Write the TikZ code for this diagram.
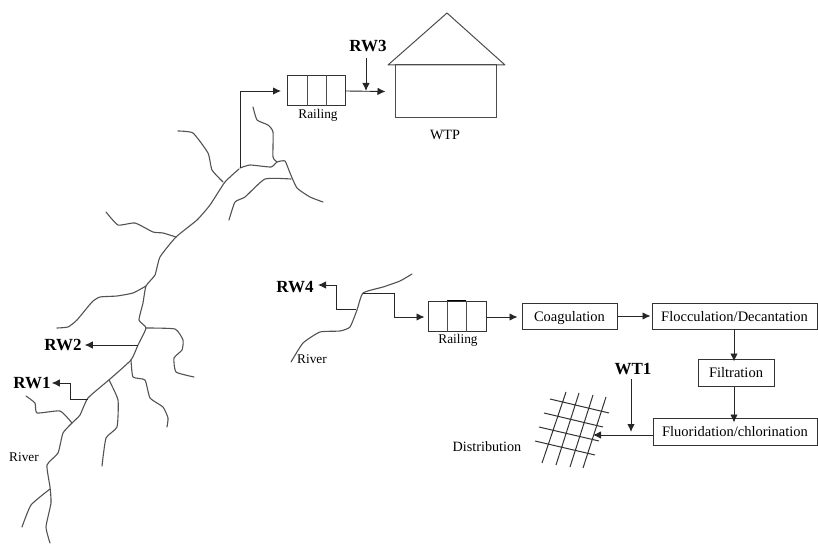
\documentclass[tikz,border=0pt]{standalone}
\usepackage{fontspec}
\setmainfont{Liberation Serif}
\usetikzlibrary{arrows.meta,calc}
\tikzset{
  river/.style={draw=black!68,line width=1.1pt,smooth,tension=0.3,line join=round,line cap=round},
  flow/.style={draw=black!85,line width=0.9pt,-{Latex[length=8pt,width=7.5pt]}},
  line/.style={draw=black!70,line width=1pt},
  gridline/.style={draw=black!80,line width=1pt},
  pbox/.style={draw=black!80,line width=1pt,rectangle,inner sep=0pt,text height=10pt,text depth=0pt,font=\fontsize{14.5}{16}\selectfont},
  railbox/.style={draw=black!80,line width=1pt,rectangle,inner sep=0pt,minimum width=58pt,minimum height=30pt},
  small/.style={inner sep=0pt,font=\fontsize{13.3}{15}\selectfont},
  label/.style={inner sep=0pt,font=\fontsize{14.2}{16}\selectfont},
  tag/.style={inner sep=0pt,font=\fontsize{17}{19}\selectfont\bfseries}
}
\begin{document}
\begin{tikzpicture}[x=1pt,y=-1pt]
\useasboundingbox (0,0) rectangle (818,545);

% main river, left
\draw[river] plot coordinates {(239,169)(225,182)(210,205)(197,220)(176,237)(160,257)(155,275)(146,286)(143,303)(139,320)(146,328)(138,345)(131,360)(110,379)(88,398)(80,415)(72,423)(63,433)(58,453)(47,465)(50,487)(51,503)(46,527)(50,543)};
% upper banks
\draw[river] plot coordinates {(240,168)(250,165)(271,167)(277,162)(285,161)(290,173)(297,188)(310,197)(323,202)};
\draw[river] plot coordinates {(229,220)(235,202)(245,197)(265,179)(291,179)};
% tributaries
\draw[river] plot coordinates {(253,107)(257,120)(268,125)(273,132)(273,157)(277,162)};
\draw[river] plot coordinates {(178,131)(193,133)(208,153)(212,170)(223,182)};
\draw[river] plot coordinates {(106,212)(118,225)(135,223)(153,232)(163,233)(176,237)};
\draw[river] plot coordinates {(57,328)(68,327)(77,320)(92,302)(100,297)(117,296)(133,293)(146,286)};
\draw[river] plot coordinates {(146,328)(175,329)(183,340)(182,350)(174,358)(176,372)(194,377)};
\draw[river] plot coordinates {(131,360)(133,377)(145,380)(150,398)(163,407)(168,418)(167,427)};
\draw[river] plot coordinates {(109,380)(118,400)(117,427)(106,438)(102,466)};
\draw[river] plot coordinates {(26,396)(35,403)(37,413)(60,411)(72,423)};
\draw[river] plot coordinates {(22,527)(31,505)(50,489)};
% right river
\draw[river] plot coordinates {(291,362)(303,343)(320,332)(340,331)(350,327)(357,310)(363,293)(383,287)(400,281)(412,274)};

% house
\coordinate (roofL) at (388,65);
\coordinate (roofT) at (447,13);
\coordinate (roofR) at (505,65);
\node[draw=black!70,line width=1pt,rectangle,inner sep=0pt,minimum width=101pt,minimum height=53pt] (wtpbox) at (445.5,91.5) {};
\draw[line,line join=round] (roofL) -- (roofT) -- (roofR) -- cycle;

% upper railing
\node[railbox] (railA) at (316.5,91) {};
\draw[line] ($(railA.north)+(-9.5,0)$) -- ($(railA.south)+(-9.5,0)$);
\draw[line] ($(railA.north)+(10,0)$) -- ($(railA.south)+(10,0)$);
\node[small] (railAt) at (318,115) {Railing};
\node[label] (wtpt) at (445,135) {WTP};
\node[tag] (rw3) at (368,46) {RW3};
\coordinate (srcA) at (240,168);
\coordinate (j3) at (366,91);
\draw[flow] (srcA) |- ([xshift=-6pt]railA.west);
\draw[flow] (railA.east) -- ([xshift=-9pt]wtpbox.west);
\draw[flow] (rw3.south -| j3) ++(0,6) -- (j3);

% left labels
\node[tag] (rw2) at (63,345) {RW2};
\node[tag] (rw1) at (32,383) {RW1};
\node[small] (river1) at (24,457) {River};
\coordinate (s2) at (138,345);
\coordinate (s1) at (88,399);
\coordinate (b1) at (70,399);
\coordinate (b1u) at (70,383);
\draw[flow] (s2) -- ([xshift=3pt]rw2.east);
\draw[flow] (s1) -- (b1) -- (b1u) -- ([xshift=1pt]rw1.east);

% right intake
\node[tag] (rw4) at (295,287) {RW4};
\node[small] (river2) at (312,359) {River};
\coordinate (s4) at (356,309);
\coordinate (b4a) at (336,309);
\coordinate (b4b) at (336,285);
\draw[flow] (s4) -- (b4a) -- (b4b) -- (318,285);
\node[railbox] (railB) at (457,316) {};
\draw[line] ($(railB.north)+(-10,0)$) -- ($(railB.south)+(-10,0)$);
\draw[line] ($(railB.north)+(9,0)$) -- ($(railB.south)+(9,0)$);
\draw[draw=black,line width=1.3pt] ($(railB.north)+(-10,-0.2)$) -- ($(railB.north)+(9,-0.2)$);
\node[small] (railBt) at (458,340) {Railing};
\coordinate (s5) at (363,293);
\coordinate (b5a) at (394,293);
\coordinate (b5b) at (394,317);
\draw[flow] (s5) -- (b5a) -- (b5b) -- ([xshift=-3pt]b5b -| railB.west);

% process boxes
\node[pbox,minimum width=95pt,minimum height=26pt] (coag) at (569.5,316) {Coagulation};
\node[pbox,minimum width=165pt,minimum height=26pt] (floc) at (734.5,316) {Flocculation/Decantation};
\node[pbox,minimum width=76pt,minimum height=27pt] (filt) at (736,372.5) {Filtration};
\node[pbox,minimum width=164pt,minimum height=27pt] (fluo) at (735,431.5) {Fluoridation/chlorination};
\coordinate (railBe) at (railB.east |- 0,317);
\draw[flow] (railBe) -- ([xshift=-4pt]railBe -| coag.west);
\draw[flow] (coag.east) -- ([xshift=-1pt]floc.west);
\draw[flow] (734,329) -- ([yshift=-3pt]filt.north -| 734,329);
\draw[flow] (filt.south -| 734,329) -- ([yshift=-5pt]fluo.north -| 734,329);

% WT1 and grid
\node[tag] (wt1) at (633,369) {WT1};
\coordinate (gridIn) at (593,435);
\coordinate (j1) at (631,432);
\draw[flow] (fluo.west |- gridIn) -- (gridIn);
\draw[flow] (631,379) -- (j1);
\coordinate (h1a) at (550,399); \coordinate (h1b) at (609,413);
\coordinate (h2a) at (544,413); \coordinate (h2b) at (603,427);
\coordinate (h3a) at (539,427); \coordinate (h3b) at (599,441);
\coordinate (h4a) at (535,441); \coordinate (h4b) at (595,455);
\coordinate (v1a) at (566,392); \coordinate (v1b) at (542,463);
\coordinate (v2a) at (579,393); \coordinate (v2b) at (556,465);
\coordinate (v3a) at (593,395); \coordinate (v3b) at (570,467);
\coordinate (v4a) at (606,397); \coordinate (v4b) at (583,468);
\draw[gridline] (h1a)--(h1b) (h2a)--(h2b) (h3a)--(h3b) (h4a)--(h4b)
  (v1a)--(v1b) (v2a)--(v2b) (v3a)--(v3b) (v4a)--(v4b);
\node[label] (dist) at (487,447) {Distribution};
\end{tikzpicture}
\end{document}
